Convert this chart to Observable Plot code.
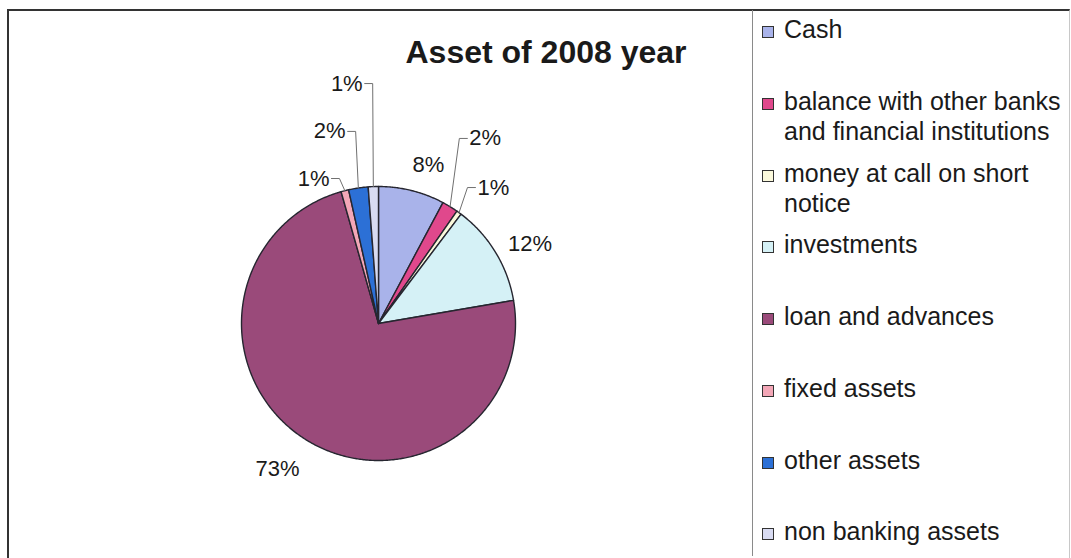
<!DOCTYPE html>
<html>
<head>
<meta charset="utf-8">
<script src="https://cdn.jsdelivr.net/npm/d3@7"></script>
<script src="https://cdn.jsdelivr.net/npm/@observablehq/plot@0.6"></script>
<style>
  body { margin: 0; background: #fff; font-family: "Liberation Sans", Arial, sans-serif; }
  #wrap { position: relative; width: 1071px; height: 558px; overflow: hidden; background: #fff; }
  #frame { position: absolute; left: 7px; top: 9px; width: 1060px; height: 560px;
           border-left: 2px solid #333; border-top: 2px solid #333; border-right: 1px solid #c8c8c8; }
  #sep { position: absolute; left: 752px; top: 10px; width: 0; height: 546px; border-left: 1px solid #8a8a8a; }
  #title { position: absolute; left: 346px; width: 400px; top: 36px; text-align: center;
           font-weight: bold; font-size: 32px; line-height: 32px; color: #1a1a1a; white-space: nowrap; }
  #chart { position: absolute; left: 0; top: 0; }
  .item { position: absolute; left: 762px; font-size: 25px; line-height: 30px; color: #1a1a1a; white-space: nowrap; }
  .sw { position: absolute; left: 0; width: 10px; height: 10px; border: 1.5px solid #333; }
  .txt { position: absolute; left: 22px; top: 0; }
</style>
</head>
<body>
<div id="wrap">
  <div id="frame"></div>
  <div id="sep"></div>
  <div id="chart"></div>
  <div id="title">Asset of 2008 year</div>
  <div id="legend"></div>
</div>
<script>
// ---- data ----
const categories = [
  "Cash",
  "balance with other banks and financial institutions",
  "money at call on short notice",
  "investments",
  "loan and advances",
  "fixed assets",
  "other assets",
  "non banking assets"
];
const shares = [7.8, 1.9, 0.6, 12.0, 73.3, 0.9, 2.3, 1.2];
const colors = ["#a9b3ea", "#e0488c", "#fbf9dc", "#d5f1f6", "#9a4a7a", "#f3a7b7", "#2c70d6", "#d8dbf2"];
const legendLines = [
  ["Cash"],
  ["balance with other banks", "and financial institutions"],
  ["money at call on short", "notice"],
  ["investments"],
  ["loan and advances"],
  ["fixed assets"],
  ["other assets"],
  ["non banking assets"]
];
// label placement: [distance in radii, angle nudge in degrees, anchor]
const labelLayout = [
  [1.21, 3.5, "middle"],
  [1.474, -7.9, "start"],
  [1.186, -2.8, "start"],
  [1.25, 3.5, "middle"],
  [1.29, 2.6, "middle"],
  [1.096, -0.85, "end"],
  [1.412, 1.67, "end"],
  [1.752, 0.77, "end"]
];

// ---- geometry ----
const W = 750, H = 558, CX = 378, CY = 323, R = 137;
const total = d3.sum(shares);
let acc = 0;
const slices = shares.map((v, i) => {
  const a0 = acc / total * 2 * Math.PI; acc += v;
  const a1 = acc / total * 2 * Math.PI;
  return {name: categories[i], value: v, a0, a1, mid: (a0 + a1) / 2, label: Math.round(v) + "%"};
});
const pt = (a, r) => ({x: r * Math.sin(a), y: r * Math.cos(a)});
const polys = slices.flatMap(s => {
  const n = Math.max(2, Math.ceil((s.a1 - s.a0) / (Math.PI / 360)));
  const pts = [{name: s.name, x: 0, y: 0}];
  for (let k = 0; k <= n; k++) pts.push({name: s.name, ...pt(s.a0 + (s.a1 - s.a0) * k / n, 1)});
  pts.push({name: s.name, x: 0, y: 0});
  return pts;
});
const labelPts = [];
const leaders = [];
slices.forEach((s, i) => {
  const [r, dA, anchor] = labelLayout[i];
  const p = pt(s.mid + dA * Math.PI / 180, r);
  if (anchor === "middle") {
    labelPts.push({label: s.label, anchor, x: p.x, y: p.y});
  } else {
    const sgn = anchor === "start" ? 1 : -1;
    const e = pt(s.mid, 1);
    leaders.push({name: s.name, x: e.x, y: e.y});
    leaders.push({name: s.name, x: p.x, y: p.y});
    leaders.push({name: s.name, x: p.x + sgn * 8 / R, y: p.y});
    labelPts.push({label: s.label, anchor, x: p.x + sgn * 10 / R, y: p.y});
  }
});

const textOpts = {x: "x", y: "y", text: "label", fontSize: 22, fill: "#1a1a1a"};
const chart = Plot.plot({
  width: W, height: H, margin: 0,
  x: {domain: [-CX / R, (W - CX) / R], axis: null},
  y: {domain: [-(H - CY) / R, CY / R], axis: null},
  color: {domain: categories, range: colors},
  style: {background: "transparent", fontFamily: "'Liberation Sans', Arial, sans-serif", overflow: "visible"},
  marks: [
    Plot.line(polys, {x: "x", y: "y", z: "name", fill: "name", stroke: "#262630", strokeWidth: 1.4, strokeLinejoin: "round"}),
    Plot.line(leaders, {x: "x", y: "y", z: "name", stroke: "#707070", strokeWidth: 1}),
    Plot.text(labelPts.filter(d => d.anchor === "middle"), {...textOpts, textAnchor: "middle"}),
    Plot.text(labelPts.filter(d => d.anchor === "start"), {...textOpts, textAnchor: "start"}),
    Plot.text(labelPts.filter(d => d.anchor === "end"), {...textOpts, textAnchor: "end"})
  ]
});
document.getElementById("chart").appendChild(chart);

// ---- legend ----
const legend = document.getElementById("legend");
categories.forEach((c, i) => {
  const baseline = 38 + i * 71.7;
  const item = document.createElement("div");
  item.className = "item";
  item.style.top = (baseline - 23.7) + "px";
  const sw = document.createElement("div");
  sw.className = "sw";
  sw.style.background = colors[i];
  sw.style.top = "12px";
  item.appendChild(sw);
  const t = document.createElement("div");
  t.className = "txt";
  t.innerHTML = legendLines[i].join("<br>");
  item.appendChild(t);
  legend.appendChild(item);
});
</script>
</body>
</html>
